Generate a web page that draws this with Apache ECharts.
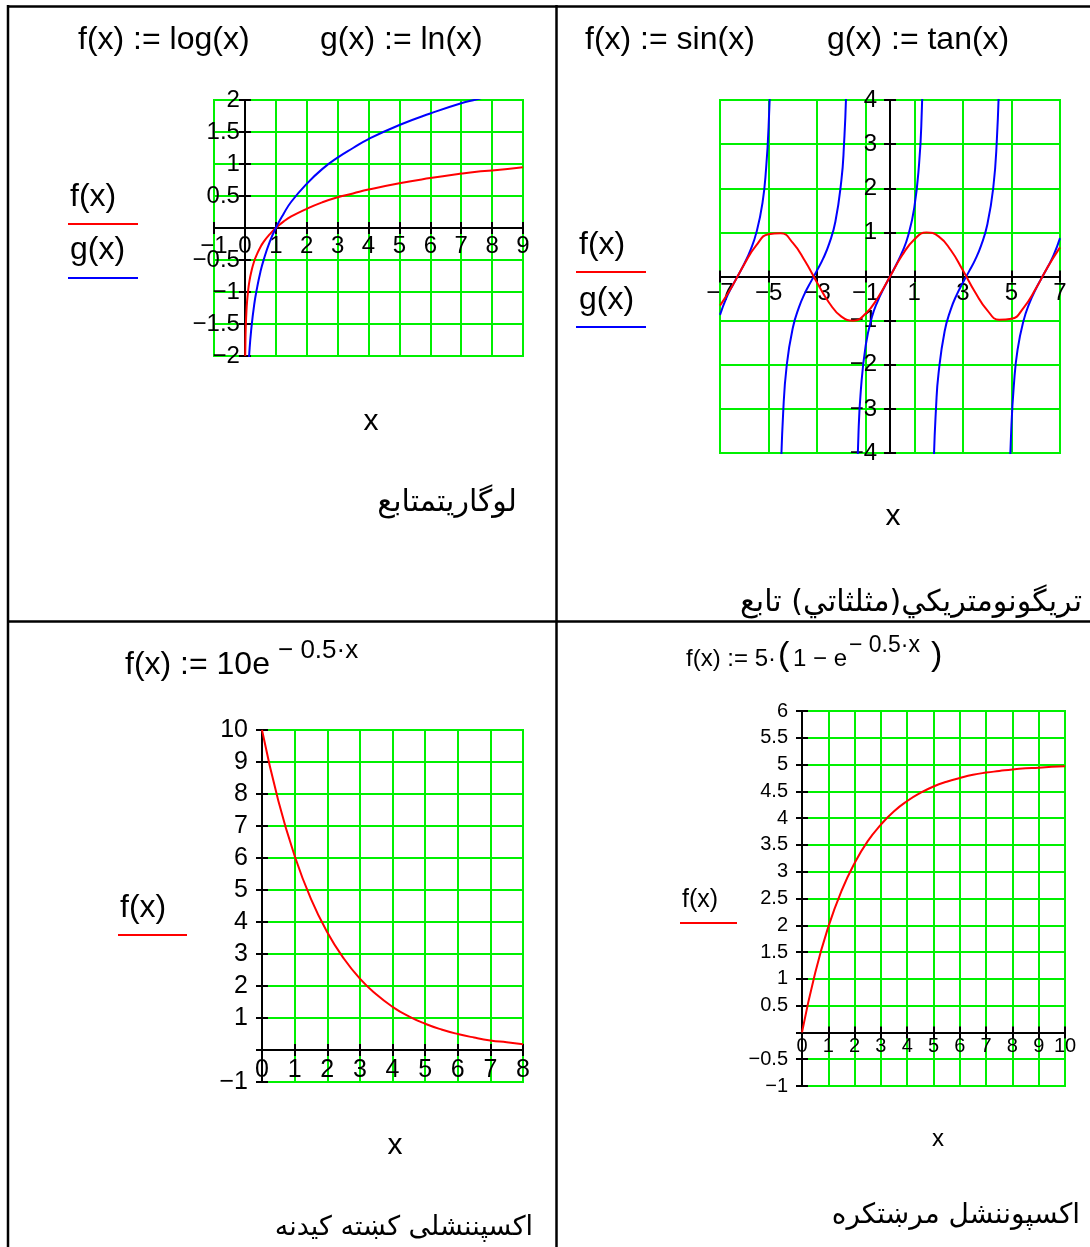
<!DOCTYPE html>
<html>
<head>
<meta charset="utf-8">
<title>Mathcad function plots</title>
<script src="https://cdn.jsdelivr.net/npm/echarts@6/dist/echarts.min.js"></script>
<style>
  html, body { margin: 0; padding: 0; background: #fff; }
  #main { width: 1090px; height: 1247px; }
</style>
</head>
<body>
<div id="main"></div>
<script>
// ---- data ----
// panel 1 : log10 (red) and ln (blue)
var logX = [0.01, 0.02, 0.03, 0.05, 0.07, 0.1, 0.14, 0.2, 0.3, 0.4, 0.5, 0.6, 0.8, 1, 1.25, 1.5, 2, 2.5, 3, 3.5, 4, 5, 6, 7, 7.5, 8, 9];
var logF = [-2, -1.7, -1.52, -1.3, -1.15, -1, -0.85, -0.7, -0.52, -0.4, -0.3, -0.22, -0.1, 0, 0.1, 0.18, 0.3, 0.4, 0.48, 0.54, 0.6, 0.7, 0.78, 0.85, 0.88, 0.9, 0.95];
var logG = [-4.61, -3.91, -3.51, -3, -2.66, -2.3, -1.97, -1.61, -1.2, -0.92, -0.69, -0.51, -0.22, 0, 0.22, 0.41, 0.69, 0.92, 1.1, 1.25, 1.39, 1.61, 1.79, 1.95, 2.01, 2.08, 2.2];

// panel 2 : sin (red) and tan (blue, null = break at asymptote)
var sinX = [-7, -6.5, -6, -5.5, -5, -4.5, -4, -3.5, -3, -2.5, -2, -1.5, -1, -0.5, 0, 0.5, 1, 1.5, 2, 2.5, 3, 3.5, 4, 4.5, 5, 5.5, 6, 6.5, 7];
var sinY = [-0.66, -0.22, 0.28, 0.71, 0.96, 0.98, 0.76, 0.35, -0.14, -0.6, -0.91, -1, -0.84, -0.48, 0, 0.48, 0.84, 1, 0.91, 0.6, 0.14, -0.35, -0.76, -0.98, -0.96, -0.71, -0.28, 0.22, 0.66];
var tanX = [-7, -6.75, -6.5, -6.25, -6, -5.75, -5.5, -5.25, -5.1, -5, -4.9, -4.8, -4.71,
            -4.6, -4.5, -4.4, -4.25, -4, -3.75, -3.5, -3.25, -3, -2.75, -2.5, -2.25, -2, -1.9, -1.8, -1.7, -1.57,
            -1.45, -1.4, -1.3, -1.2, -1, -0.75, -0.5, -0.25, 0, 0.25, 0.5, 0.75, 1, 1.2, 1.3, 1.4, 1.45, 1.57,
            1.7, 1.8, 1.9, 2, 2.25, 2.5, 2.75, 3, 3.25, 3.5, 3.75, 4, 4.25, 4.4, 4.5, 4.6, 4.71,
            4.8, 4.9, 5, 5.1, 5.25, 5.5, 5.75, 6, 6.25, 6.5, 6.75, 7];
var tanY = [-0.87, -0.5, -0.22, 0.03, 0.29, 0.59, 1, 1.67, 2.46, 3.38, 5.27, 11.4, null,
            -8.86, -4.64, -3.1, -2, -1.16, -0.7, -0.37, -0.11, 0.14, 0.41, 0.75, 1.24, 2.19, 2.93, 4.29, 7.7, null,
            -8.24, -5.8, -3.6, -2.57, -1.56, -0.93, -0.55, -0.26, 0, 0.26, 0.55, 0.93, 1.56, 2.57, 3.6, 5.8, 8.24, null,
            -7.7, -4.29, -2.93, -2.19, -1.24, -0.75, -0.41, -0.14, 0.11, 0.37, 0.7, 1.16, 2, 3.1, 4.64, 8.86, null,
            -11.4, -5.27, -3.38, -2.46, -1.67, -1, -0.59, -0.29, -0.03, 0.22, 0.5, 0.87];

// panel 3 : decay
var decayX = [0, 0.5, 1, 1.5, 2, 2.5, 3, 3.5, 4, 4.5, 5, 5.5, 6, 6.5, 7, 7.5, 8];
var decayY = [10, 7.79, 6.07, 4.72, 3.68, 2.87, 2.23, 1.74, 1.35, 1.05, 0.82, 0.64, 0.5, 0.39, 0.3, 0.24, 0.18];

// panel 4 : growth
var growX = [0, 0.5, 1, 1.5, 2, 2.5, 3, 3.5, 4, 4.5, 5, 5.5, 6, 6.5, 7, 7.5, 8, 8.5, 9, 9.5, 10];
var growY = [0, 1.11, 1.97, 2.64, 3.16, 3.57, 3.88, 4.13, 4.32, 4.47, 4.59, 4.68, 4.75, 4.81, 4.85, 4.88, 4.91, 4.93, 4.94, 4.96, 4.97];

// axis ranges [min, max, step]
var p1X = [-1, 9, 1],  p1Y = [-2, 2, 0.5];
var p2X = [-7, 7, 2],  p2Y = [-4, 4, 1];
var p3X = [0, 8, 1],   p3Y = [-1, 10, 1];
var p4X = [0, 10, 1],  p4Y = [-1, 6, 0.5];

// ---- look ----
var FONT = '"Liberation Sans", Arial, sans-serif';
var AR_FONT = '"DejaVu Sans", "Liberation Sans", sans-serif';
var GREEN = '#00f000';
var RED = '#ff0000';
var BLUE = '#0000ff';

// plot boxes [left, top, width, height]
var box1 = [214, 100, 309, 256];
var box2 = [720, 100, 340, 353];
var box3 = [262, 730, 261, 352];
var box4 = [802, 711, 263, 375];

function fmtNum(hideZero) {
  return function (v) {
    if (hideZero && Math.abs(v) < 1e-9) return '';
    return String(+v.toFixed(2)).replace('-', '\u2212');
  };
}

// axes sit on the zero line of the other axis (shifted by offset so labels follow);
// each axis gets a twin with inward ticks so the ticks cross the line
function axes(dim, gi, r, other, box, fs, margin, hideZero) {
  var pos = dim === 'x' ? 'bottom' : 'left';
  var size = dim === 'x' ? box[3] : box[2];
  var off = -size * (0 - other[0]) / (other[1] - other[0]);
  var main = {
    type: 'value', gridIndex: gi, min: r[0], max: r[1], interval: r[2], position: pos, offset: off,
    axisLine: { onZero: false, lineStyle: { color: '#000', width: 2 } },
    axisTick: { show: true, length: 6, lineStyle: { color: '#000', width: 2 } },
    axisLabel: {
      color: '#000', fontSize: fs, fontFamily: FONT, margin: margin,
      showMinLabel: true, showMaxLabel: true, formatter: fmtNum(hideZero)
    },
    splitLine: { show: true, lineStyle: { color: GREEN, width: 2 } }
  };
  var twin = {
    type: 'value', gridIndex: gi, min: r[0], max: r[1], interval: r[2], position: pos, offset: off,
    axisLine: { onZero: false, lineStyle: { color: '#000', width: 2 } },
    axisTick: { show: true, inside: true, length: 6, lineStyle: { color: '#000', width: 2 } },
    axisLabel: { show: false },
    splitLine: { show: false }
  };
  return [main, twin];
}

function curve(gi, xs, ys, color) {
  return {
    type: 'line', xAxisIndex: 2 * gi, yAxisIndex: 2 * gi,
    data: xs.map(function (x, i) { return [x, ys[i] === null ? '-' : ys[i]]; }),
    showSymbol: false, symbol: 'none', smooth: true,
    connectNulls: false, clip: true, silent: true,
    lineStyle: { color: color, width: 2 }, itemStyle: { color: color }
  };
}

function grid(b) {
  return { left: b[0], top: b[1], width: b[2], height: b[3], containLabel: false, outerBoundsMode: 'none',
           show: true, borderColor: GREEN, borderWidth: 2 };
}

function txt(s, x, y, size, align, family) {
  return {
    type: 'text', silent: true,
    style: { text: s, x: x, y: y, fill: '#000', font: size + 'px ' + (family || FONT),
             align: align || 'left', verticalAlign: 'middle',
             textAlign: align || 'left', textVerticalAlign: 'middle' }
  };
}
function seg(x1, y1, x2, y2, color, w) {
  return { type: 'line', silent: true, shape: { x1: x1, y1: y1, x2: x2, y2: y2 },
           style: { stroke: color, lineWidth: w } };
}

var graphics = [
  // table rules
  seg(8, 6.5, 1090, 6.5, '#000', 2.5),
  seg(8, 5, 8, 1247, '#000', 2.5),
  seg(556.5, 5, 556.5, 1247, '#000', 2.5),
  seg(8, 621.5, 1090, 621.5, '#000', 2.5),

  // panel 1
  txt('f(x) := log(x)', 78, 40, 32),
  txt('g(x) := ln(x)', 320, 40, 32),
  txt('f(x)', 70, 197, 32), seg(68, 224, 138, 224, RED, 2),
  txt('g(x)', 70, 250, 32), seg(68, 278, 138, 278, BLUE, 2),
  txt('x', 371, 422, 30, 'center'),
  txt('لوگاريتمتابع', 517, 503, 30, 'right', AR_FONT),

  // panel 2
  txt('f(x) := sin(x)', 585, 40, 32),
  txt('g(x) := tan(x)', 827, 40, 32),
  txt('f(x)', 579, 245, 32), seg(576, 272, 646, 272, RED, 2),
  txt('g(x)', 579, 300, 32), seg(576, 327, 646, 327, BLUE, 2),
  txt('x', 893, 517, 30, 'center'),
  txt('تريگونومتريكي(مثلثاتي) تابع', 1082, 603, 30, 'right', AR_FONT),

  // panel 3
  txt('f(x) := 10e', 125, 665, 32),
  txt('\u2212 0.5\u00b7x', 278, 651, 26),
  txt('f(x)', 120, 908, 32), seg(118, 935, 187, 935, RED, 2),
  txt('x', 395, 1146, 30, 'center'),
  txt('اكسپننشلى كښته كيدنه', 533, 1228, 27, 'right', AR_FONT),

  // panel 4
  txt('f(x) := 5\u00b7', 686, 659, 24),
  txt('(', 778, 656, 34),
  txt('1 \u2212 e', 793, 659, 24),
  txt('\u2212 0.5\u00b7x', 849, 646, 23),
  txt(')', 931, 656, 34),
  txt('f(x)', 682, 900, 25), seg(680, 923, 737, 923, RED, 2),
  txt('x', 938, 1139, 24, 'center'),
  txt('اكسپوننشل مرښتكره', 1080, 1216, 28, 'right', AR_FONT)
];

var option = {
  animation: false,
  backgroundColor: '#fff',
  grid: [grid(box1), grid(box2), grid(box3), grid(box4)],
  xAxis: [].concat(
    axes('x', 0, p1X, p1Y, box1, 24, 6, false),
    axes('x', 1, p2X, p2Y, box2, 24, 5, false),
    axes('x', 2, p3X, p3Y, box3, 25, 8, false),
    axes('x', 3, p4X, p4Y, box4, 20, 4, false)
  ),
  yAxis: [].concat(
    axes('y', 0, p1Y, p1X, box1, 24, 5, true),
    axes('y', 1, p2Y, p2X, box2, 24, 13, true),
    axes('y', 2, p3Y, p3X, box3, 25, 14, true),
    axes('y', 3, p4Y, p4X, box4, 20, 14, true)
  ),
  series: [
    curve(0, logX, logF, RED),
    curve(0, logX, logG, BLUE),
    curve(1, tanX, tanY, BLUE),
    curve(1, sinX, sinY, RED),
    curve(2, decayX, decayY, RED),
    curve(3, growX, growY, RED)
  ],
  graphic: graphics
};

var myChart = echarts.init(document.getElementById('main'));
myChart.setOption(option);
</script>
</body>
</html>
